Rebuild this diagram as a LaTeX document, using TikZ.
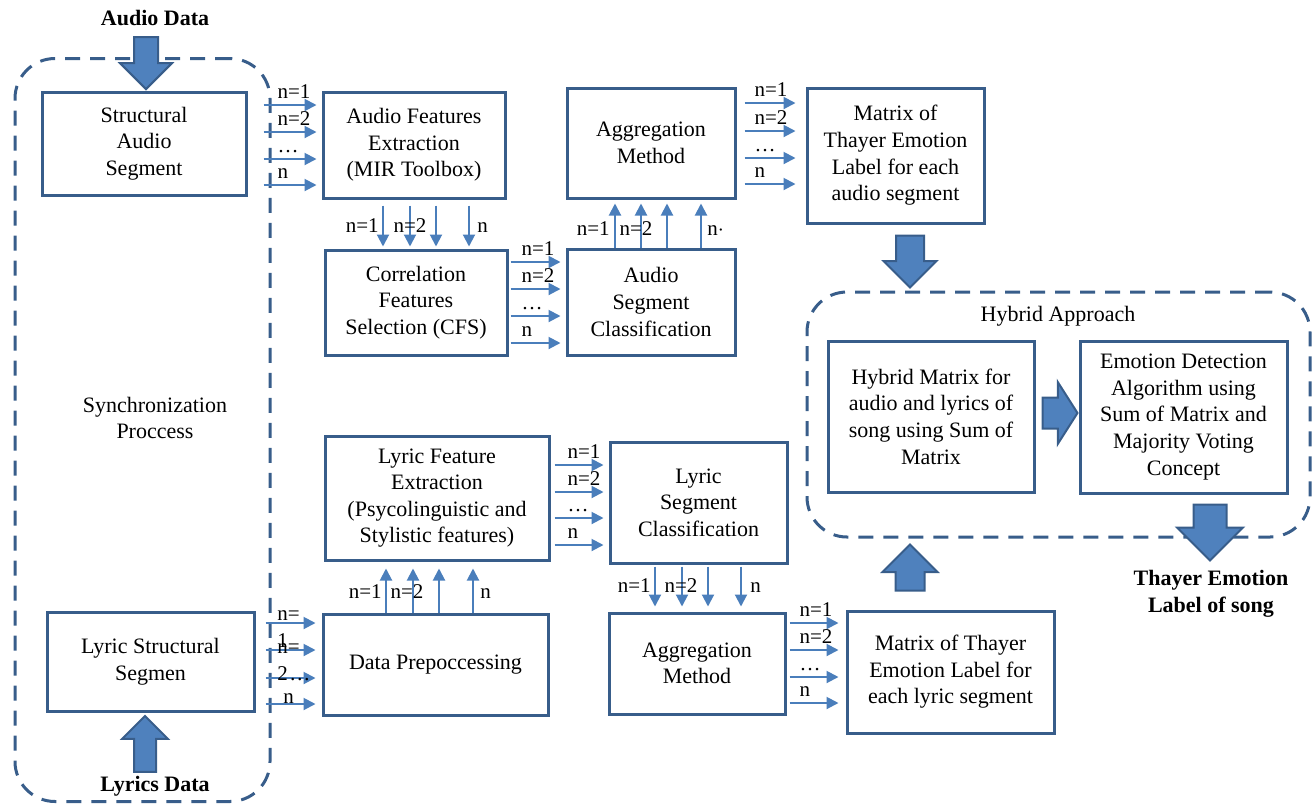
\documentclass[tikz,border=0pt]{standalone}
\usepackage{fontspec}
\setmainfont{Liberation Serif}
\usepackage{xcolor}
\usetikzlibrary{shapes.arrows,arrows.meta}
\definecolor{boxblue}{RGB}{56,93,138}
\definecolor{arrblue}{RGB}{74,126,187}
\definecolor{fillblue}{RGB}{79,129,189}

\begin{document}
\begin{tikzpicture}[x=0.5pt,y=-0.5pt,
  box/.style={draw=boxblue, line width=1.5pt, align=center, inner sep=2pt,
    font=\fontsize{11}{13.3}\selectfont},
  group/.style={draw=boxblue, line width=1.5pt, dash pattern=on 7.5pt off 5pt,
    rounded corners=20pt},
  thinarr/.style={draw=arrblue, line width=1pt, -{Triangle[length=6pt,width=6pt]}},
  lbl/.style={font=\fontsize{10.5}{13.5}\selectfont, inner sep=0pt, anchor=base west, align=left},
  fatarrow/.style={single arrow, draw=boxblue, fill=fillblue, line width=1pt,
    minimum width=0pt, inner xsep=0pt},
  title/.style={font=\bfseries\fontsize{11}{13.3}\selectfont, align=center}]
\useasboundingbox (0,0) rectangle (1314,805);

% Dashed groups
\node[group, minimum width=127.5pt, minimum height=371.5pt] (sync) at (142.5,430) {};
\node[font=\fontsize{11}{13.3}\selectfont, align=center] (synclbl) at (155,418) {Synchronization\\Proccess};
\node[group, minimum width=251.5pt, minimum height=122.5pt] (hybrid) at (1058.5,414.5) {};
\node[font=\fontsize{11}{13.3}\selectfont] (hyblbl) at (1058,316) {Hybrid Approach};

% Audio part
\node[box, minimum width=102pt, minimum height=51.5pt] (sas) at (144,143.5) {Structural\\Audio\\Segment};
\node[box, minimum width=91pt, minimum height=53pt] (afe) at (414,145) {Audio Features\\Extraction\\(MIR Toolbox)};
\node[box, minimum width=91pt, minimum height=52.5pt] (cfs) at (416,302.5) {Correlation\\Features\\Selection (CFS)};
\node[box, minimum width=84pt, minimum height=55pt] (aggA) at (651,143) {Aggregation\\Method};
\node[box, minimum width=84pt, minimum height=53pt] (asc) at (651,302) {Audio\\Segment\\Classification};
\node[box, minimum width=88.5pt, minimum height=67.5pt] (mta) at (895.5,155.5) {Matrix of\\Thayer Emotion\\Label for each\\audio segment};

% Hybrid part
\node[box, minimum width=103pt, minimum height=75.5pt] (hmx) at (931,416.5) {Hybrid Matrix for\\audio and lyrics of\\song using Sum of\\Matrix};
\node[box, minimum width=103.5pt, minimum height=76pt] (edt) at (1183.5,417) {Emotion Detection\\Algorithm using\\Sum of Matrix and\\Majority Voting\\Concept};

% Lyric part
\node[box, minimum width=112pt, minimum height=62pt] (lfe) at (437,498) {Lyric Feature\\Extraction\\(Psycolinguistic and\\Stylistic features)};
\node[box, minimum width=88.5pt, minimum height=60.5pt] (lsc) at (698.5,502.5) {Lyric\\Segment\\Classification};
\node[box, minimum width=88pt, minimum height=50.5pt] (aggL) at (697,663.5) {Aggregation\\Method};
\node[box, minimum width=103.5pt, minimum height=61pt] (mtl) at (950.5,672) {Matrix of Thayer\\Emotion Label for\\each lyric segment};
\node[box, minimum width=103.5pt, minimum height=49.5pt] (lss) at (150.5,661.5) {Lyric Structural\\Segmen};
\node[box, minimum width=112.5pt, minimum height=50.5pt] (dpp) at (435.5,664.5) {Data Prepoccessing};

% Inputs and output
\node[title] (audio) at (155,18) {Audio Data};
\node[title] (lyrics) at (155,786) {Lyrics Data};
\node[title] (song) at (1211,594) {Thayer Emotion\\Label of song};

% Fat arrows
\node[fatarrow, rotate=-90, anchor=tip, minimum height=26pt, inner ysep=5.5pt,
  single arrow head extend=7pt] (audioarr) at (sas.north -| 146,0) {};
\node[fatarrow, rotate=90, anchor=tip, minimum height=28pt, inner ysep=5pt,
  single arrow head extend=6pt] (lyricsarr) at ([yshift=-1pt]lss.south -| 145,0) {};
\node[fatarrow, rotate=-90, anchor=tail, minimum height=26pt, inner ysep=6.5pt,
  single arrow head extend=6.25pt] (mtaarr) at ([yshift=-5pt]mta.south -| 910,0) {};
\node[fatarrow, rotate=90, anchor=tail, minimum height=23pt, inner ysep=6.75pt,
  single arrow head extend=6.5pt] (mtlarr) at ([yshift=9pt]mtl.north -| 910,0) {};
\node[fatarrow, anchor=tail, single arrow tip angle=115, minimum height=17.5pt, inner ysep=7.25pt,
  single arrow head extend=7.75pt] (hybarr) at ([xshift=3pt]hmx.east |- 0,413) {};
\node[fatarrow, rotate=-90, anchor=tail, minimum height=28pt, inner ysep=7.75pt,
  single arrow head extend=8.25pt] (songarr) at ([yshift=-4.5pt]edt.south -| 1210,0) {};

% Horizontal arrow bundles
\foreach \yy/\lab in {105/n=1,132/n=2,159/\ldots,185/n}
  \draw[thinarr, shorten <=8pt, shorten >=2.5pt] (sas.east |- 0,\yy) -- (afe.west |- 0,\yy)
    node[lbl, pos=0, xshift=14.5pt, yshift=3.5pt] {\lab};
\foreach \yy/\lab in {262/n=1,289/n=2,316/\ldots,343/n}
  \draw[thinarr, shorten <=1pt, shorten >=2.5pt] (cfs.east |- 0,\yy) -- (asc.west |- 0,\yy)
    node[lbl, pos=0, xshift=6pt, yshift=3.5pt] {\lab};
\foreach \yy/\lab in {103/n=1,131/n=2,158/\ldots,184/n}
  \draw[thinarr, shorten <=4pt, shorten >=5pt] (aggA.east |- 0,\yy) -- (mta.west |- 0,\yy)
    node[lbl, pos=0, xshift=8.5pt, yshift=3.5pt] {\lab};
\foreach \yy/\lab in {465/n=1,492/n=2,518/\ldots,545/n}
  \draw[thinarr, shorten <=2pt, shorten >=2.5pt] (lfe.east |- 0,\yy) -- (lsc.west |- 0,\yy)
    node[lbl, pos=0, xshift=8pt, yshift=3.5pt] {\lab};
\foreach \yy/\lab in {623/n=1,650/n=2,677/\ldots,703/n}
  \draw[thinarr, shorten <=1.5pt, shorten >=3.5pt] (aggL.east |- 0,\yy) -- (mtl.west |- 0,\yy)
    node[lbl, pos=0, xshift=6pt, yshift=3.5pt] {\lab};
\foreach \yy in {623,650,678,704}
  \draw[thinarr, shorten <=5pt, shorten >=3pt] (lss.east |- 0,\yy) -- (dpp.west |- 0,\yy);
\node[lbl] (ls1) at (277,647) {n=\\1};
\node[lbl] (ls2) at (277,680) {n=\\2};
\node[lbl] (ls3) at (289,680) {\ldots};
\node[lbl] (ls4) at (283,703) {n};

% Vertical arrow bundles
\foreach \xx in {383,410,436,469}
  \draw[thinarr, shorten <=3pt, shorten >=1pt] (afe.south -| \xx,0) -- (cfs.north -| \xx,0);
\node[lbl, anchor=base east] (fc1) at (379,232) {n=1};
\node[lbl, anchor=base] (fc2) at (410,232) {n=2};
\node[lbl] (fc3) at (477,232) {n};

\foreach \xx in {615,641,667,701}
  \draw[thinarr, shorten >=2pt] (asc.north -| \xx,0) -- (aggA.south -| \xx,0);
\node[lbl, anchor=base east] (ca1) at (610,235) {n=1};
\node[lbl, anchor=base] (ca2) at (636,235) {n=2};
\node[lbl] (ca3) at (707,235) {n$\cdot$};

\foreach \xx in {386,413,439,473}
  \draw[thinarr, shorten >=3.5pt] (dpp.north -| \xx,0) -- (lfe.south -| \xx,0);
\node[lbl, anchor=base east] (dl1) at (382,598) {n=1};
\node[lbl, anchor=base] (dl2) at (407,598) {n=2};
\node[lbl] (dl3) at (480,598) {n};

\foreach \xx in {655,682,708,741}
  \draw[thinarr, shorten <=1pt, shorten >=2.5pt] (lsc.south -| \xx,0) -- (aggL.north -| \xx,0);
\node[lbl, anchor=base east] (la1) at (651,592) {n=1};
\node[lbl, anchor=base] (la2) at (681,592) {n=2};
\node[lbl] (la3) at (750,592) {n};
\end{tikzpicture}
\end{document}
